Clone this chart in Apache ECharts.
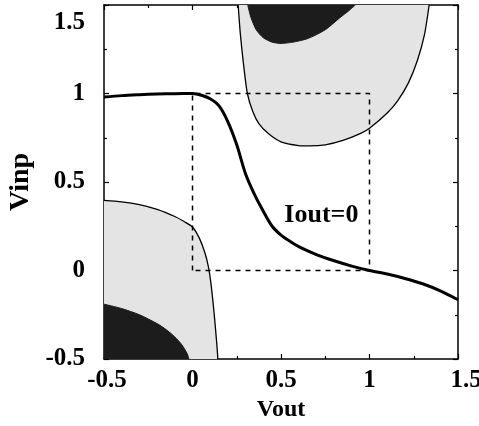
<!DOCTYPE html>
<html>
<head>
<meta charset="utf-8">
<script src="https://cdn.jsdelivr.net/npm/echarts@6/dist/echarts.min.js"></script>
<style>
  html, body { margin: 0; padding: 0; background: #fff; }
  #main { width: 479px; height: 426px; }
</style>
</head>
<body>
<div id="main"></div>
<script>
// Iout=0 curve (thick)
var mainX = [-0.5, -0.4, -0.3, -0.2, -0.1, 0, 0.05, 0.1, 0.15, 0.2, 0.25, 0.3, 0.35, 0.4, 0.45, 0.5, 0.55, 0.6, 0.7, 0.8, 0.9, 1.0, 1.1, 1.2, 1.3, 1.4, 1.5];
var mainY = [0.98, 0.988, 0.993, 0.997, 0.999, 1.0, 0.99, 0.97, 0.93, 0.84, 0.71, 0.545, 0.43, 0.335, 0.25, 0.2, 0.165, 0.135, 0.09, 0.055, 0.025, 0.0, -0.02, -0.045, -0.075, -0.115, -0.165];

// upper light region boundary (U shape)
var upperX = [0.258, 0.27, 0.29, 0.31, 0.34, 0.375, 0.43, 0.5, 0.6, 0.66, 0.75, 0.85, 0.95, 1.0, 1.1, 1.16, 1.22, 1.27, 1.31, 1.337];
var upperY = [1.5, 1.34, 1.15, 1.0, 0.9, 0.83, 0.772, 0.727, 0.706, 0.704, 0.71, 0.735, 0.775, 0.804, 0.89, 0.96, 1.06, 1.185, 1.33, 1.5];

// upper dark region boundary
var upperDarkX = [0.312, 0.33, 0.36, 0.4, 0.45, 0.5, 0.56, 0.65, 0.75, 0.835, 0.88, 0.92];
var upperDarkY = [1.5, 1.43, 1.36, 1.315, 1.29, 1.283, 1.289, 1.31, 1.36, 1.43, 1.465, 1.5];

// lower light region boundary
var lowerX = [-0.5, -0.4, -0.3, -0.2, -0.1, -0.05, 0, 0.04, 0.07, 0.09, 0.105, 0.12, 0.13, 0.14, 0.143];
var lowerY = [0.396, 0.388, 0.372, 0.345, 0.305, 0.278, 0.246, 0.18, 0.1, 0.02, -0.08, -0.22, -0.33, -0.45, -0.5];

// lower dark region boundary
var lowerDarkX = [-0.5, -0.4, -0.3, -0.2, -0.15, -0.1, -0.06, -0.03, -0.02];
var lowerDarkY = [-0.19, -0.215, -0.25, -0.3, -0.333, -0.375, -0.42, -0.47, -0.5];

// dashed square
var boxX = [0, 0, 1, 1, 0];
var boxY = [0, 1, 1, 0, 0];

var labelPos = [0.728, 0.312];

function pairs(xs, ys) {
    return xs.map(function (x, i) { return [x, ys[i]]; });
}

var font = 'Liberation Serif';
var light = '#e4e4e4';
var dark = '#1c1c1c';

var chartDom = document.getElementById('main');
var myChart = echarts.init(chartDom);

function axisBase(pos, showLabel) {
    return {
        type: 'value',
        position: pos,
        min: -0.5,
        max: 1.5,
        interval: 0.5,
        axisLine: { show: true, onZero: false, lineStyle: { color: '#000', width: 1.5 } },
        axisTick: { show: true, inside: true, length: 5, lineStyle: { color: '#000', width: 1.2 } },
        minorTick: { show: true, splitNumber: 2, length: 3, lineStyle: { color: '#000', width: 1.2 } },
        splitLine: { show: false },
        minorSplitLine: { show: false },
        axisLabel: { show: showLabel }
    };
}

var xMain = axisBase('bottom', true);
xMain.axisLabel = {
    show: true, margin: 9, color: '#000', fontFamily: font, fontWeight: 'bold', fontSize: 25,
    formatter: function (v) {
        if (v === 1.5) return '{r|1.5}';
        if (v === -0.5) return '{l|-0.5}';
        return String(v);
    },
    rich: {
        r: { padding: [0, 0, 0, 16], fontFamily: font, fontWeight: 'bold', fontSize: 25, color: '#000' },
        l: { padding: [0, 0, 0, 6], fontFamily: font, fontWeight: 'bold', fontSize: 25, color: '#000' }
    }
};
xMain.name = 'Vout';
xMain.nameLocation = 'middle';
xMain.nameGap = 38;
xMain.nameTextStyle = { color: '#000', fontFamily: font, fontWeight: 'bold', fontSize: 24 };

var yMain = axisBase('left', true);
yMain.axisLabel = {
    show: true, margin: 19, color: '#000', fontFamily: font, fontWeight: 'bold', fontSize: 25,
    formatter: function (v) {
        if (v === 1.5) return '{t|1.5}';
        return String(v);
    },
    rich: {
        t: { padding: [36, 0, 0, 0], fontFamily: font, fontWeight: 'bold', fontSize: 25, color: '#000' }
    }
};
yMain.name = 'Vinp';
yMain.nameLocation = 'middle';
yMain.nameGap = 66;
yMain.nameTextStyle = { color: '#000', fontFamily: font, fontWeight: 'bold', fontSize: 28 };

var option = {
    animation: false,
    backgroundColor: '#fff',
    grid: { left: 104, right: 21, top: 5, bottom: 67, outerBoundsMode: 'none' },
    xAxis: [xMain, axisBase('top', false)],
    yAxis: [yMain, axisBase('right', false)],
    series: [
        {
            type: 'line', data: pairs(upperX, upperY), symbol: 'none',
            smooth: 0.25,
            lineStyle: { color: '#000', width: 1.3 },
            areaStyle: { color: light, opacity: 1, origin: 'end' },
            z: 1
        },
        {
            type: 'line', data: pairs(lowerX, lowerY), symbol: 'none',
            smooth: 0.25,
            lineStyle: { color: '#000', width: 1.3 },
            areaStyle: { color: light, opacity: 1, origin: 'start' },
            z: 1
        },
        {
            type: 'line', data: pairs(upperDarkX, upperDarkY), symbol: 'none',
            smooth: 0.25,
            lineStyle: { color: dark, width: 1 },
            areaStyle: { color: dark, opacity: 1, origin: 'end' },
            z: 2
        },
        {
            type: 'line', data: pairs(lowerDarkX, lowerDarkY), symbol: 'none',
            smooth: 0.25,
            lineStyle: { color: dark, width: 1 },
            areaStyle: { color: dark, opacity: 1, origin: 'start' },
            z: 2
        },
        {
            type: 'line', data: pairs(boxX, boxY), symbol: 'none',
            lineStyle: { color: '#000', width: 1.5, type: [5, 5] },
            z: 3
        },
        {
            type: 'line', data: pairs(mainX, mainY), symbol: 'none',
            smooth: 0.3,
            lineStyle: { color: '#000', width: 3 },
            z: 4
        },
        {
            type: 'scatter', data: [labelPos], symbolSize: 0,
            itemStyle: { color: '#000', opacity: 1 },
            label: {
                show: true, position: 'inside', formatter: 'Iout=0', opacity: 1,
                color: '#000', textBorderWidth: 0, fontFamily: font, fontWeight: 'bold', fontSize: 26
            },
            z: 5
        }
    ]
};

myChart.setOption(option);
</script>
</body>
</html>
